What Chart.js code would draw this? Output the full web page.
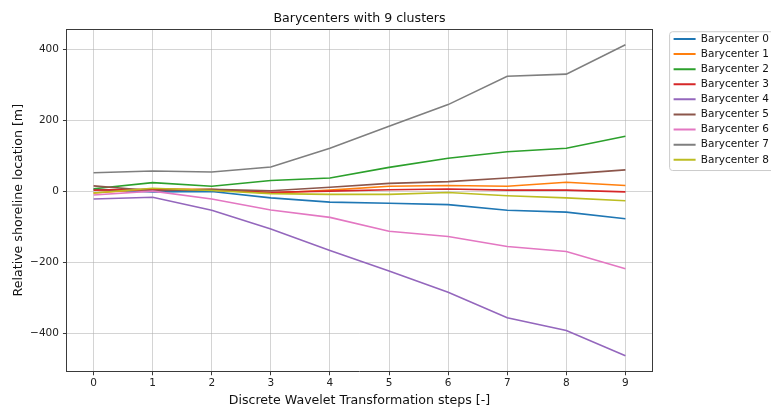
<!DOCTYPE html>
<html>
<head>
<meta charset="utf-8">
<title>Barycenters with 9 clusters</title>
<script src="https://cdn.jsdelivr.net/npm/chart.js@4/dist/chart.umd.min.js"></script>
<style>
  html, body { margin: 0; padding: 0; background: #fff; }
  #wrap { width: 771px; height: 408px; }
</style>
</head>
<body>
<div id="wrap"><canvas id="chart" width="771" height="408"></canvas></div>
<script>
// DWT steps on the x axis
const steps = [0, 1, 2, 3, 4, 5, 6, 7, 8, 9];

// barycenter curves, relative shoreline location in metres
const bary0 = [5, -2, -1, -19, -31, -34, -38, -54, -59, -78];
const bary1 = [-5, 6, 5, -6, 3, 14, 16, 14, 25, 16];
const bary2 = [7, 24, 14, 30, 37, 67, 93, 111, 121, 155];
const bary3 = [3, 5, 3, -3, 0, 4, 6, 3, 3, -2];
const bary4 = [-22, -17, -54, -107, -167, -225, -285, -357, -393, -464];
const bary5 = [15, 1, 5, 1, 11, 22, 27, 37, 48, 60];
const bary6 = [-11, 0, -22, -53, -74, -113, -128, -156, -170, -219];
const bary7 = [52, 57, 54, 68, 121, 183, 244, 324, 330, 413];
const bary8 = [-5, 8, 2, -7, -9, -9, -4, -13, -19, -27];

const seriesNames = ['Barycenter 0', 'Barycenter 1', 'Barycenter 2', 'Barycenter 3', 'Barycenter 4',
                     'Barycenter 5', 'Barycenter 6', 'Barycenter 7', 'Barycenter 8'];
const series = [bary0, bary1, bary2, bary3, bary4, bary5, bary6, bary7, bary8];

const xTicks = [0, 1, 2, 3, 4, 5, 6, 7, 8, 9];
const yTicks = [-400, -200, 0, 200, 400];

// tab10
const colors = ['#1f77b4', '#ff7f0e', '#2ca02c', '#d62728', '#9467bd',
                '#8c564b', '#e377c2', '#7f7f7f', '#bcbd22'];

const FONT = 'DejaVu Sans';
const SPINE = '#3a3a3a';
const GRID = 'rgba(176,176,176,0.55)';

const datasets = series.map((vals, i) => ({
  label: seriesNames[i],
  data: steps.map((s, j) => ({ x: s, y: vals[j] })),
  borderColor: colors[i],
  backgroundColor: colors[i],
  borderWidth: 1.6,
  pointRadius: 0,
  tension: 0,
  order: series.length - i   // later series on top
}));

// 5% margins like the data limits
const allVals = series.flat();
const yMinData = Math.min(...allVals), yMaxData = Math.max(...allVals);
const yPad = (yMaxData - yMinData) * 0.05;
const xPad = (steps[steps.length - 1] - steps[0]) * 0.05;

// frame around the legend entries
const legendFrame = {
  id: 'legendFrame',
  afterDraw(chart) {
    const boxes = chart.legend && chart.legend.legendHitBoxes;
    if (!boxes || !boxes.length) return;
    const first = boxes[0], last = boxes[boxes.length - 1];
    const l = first.left - 4.5, t = first.top - 2.5;
    const r = chart.width + 6, b = last.top + last.height + 5;
    const ctx = chart.ctx;
    ctx.save();
    ctx.strokeStyle = '#cccccc';
    ctx.lineWidth = 1;
    ctx.beginPath();
    ctx.roundRect(l + 0.5, t + 0.5, r - l, b - t, 3);
    ctx.stroke();
    ctx.restore();
  }
};

const fmt = v => (v < 0 ? '\u2212' + Math.abs(v) : String(v));

new Chart(document.getElementById('chart'), {
  type: 'line',
  data: { datasets },
  options: {
    responsive: false,
    animation: false,
    layout: { padding: { left: 4, top: 0, right: 0, bottom: 0 } },
    plugins: {
      tooltip: { enabled: false },
      title: {
        display: true,
        text: 'Barycenters with 9 clusters',
        fullSize: false,
        color: '#111',
        font: { family: FONT, size: 12.6, weight: 'normal' },
        padding: { top: 11, bottom: 3 }
      },
      legend: {
        position: 'right',
        align: 'start',
        fullSize: false,
        maxWidth: 102,
        labels: {
          font: { family: FONT, size: 10.5 },
          color: '#111',
          boxWidth: 22,
          boxHeight: 2,
          padding: 4.6,
          sort: (a, b) => a.datasetIndex - b.datasetIndex,
          generateLabels: chart =>
            Chart.defaults.plugins.legend.labels.generateLabels(chart).map(it => ({
              ...it, fillStyle: it.strokeStyle, lineWidth: 0
            }))
        }
      }
    },
    scales: {
      x: {
        type: 'linear',
        position: 'bottom',
        min: steps[0] - xPad,
        max: steps[steps.length - 1] + xPad,
        afterBuildTicks: s => { s.ticks = xTicks.map(v => ({ value: v })); },
        ticks: { font: { family: FONT, size: 10.5 }, color: '#222', padding: 2, maxRotation: 0 },
        grid: { color: GRID, lineWidth: 1, tickColor: SPINE, tickLength: 4 },
        border: { color: SPINE, width: 1 },
        title: {
          display: true,
          text: 'Discrete Wavelet Transformation steps [-]',
          color: '#111',
          font: { family: FONT, size: 12.6 },
          padding: { top: 1, bottom: 0 }
        }
      },
      y: {
        type: 'linear',
        position: 'left',
        min: yMinData - yPad,
        max: yMaxData + yPad,
        afterBuildTicks: s => { s.ticks = yTicks.map(v => ({ value: v })); },
        ticks: { font: { family: FONT, size: 10.5 }, color: '#222', padding: 4, callback: v => fmt(v) },
        grid: { color: GRID, lineWidth: 1, tickColor: SPINE, tickLength: 4 },
        border: { color: SPINE, width: 1 },
        title: {
          display: true,
          text: 'Relative shoreline location [m]',
          color: '#111',
          font: { family: FONT, size: 12.6 },
          padding: { top: 7, bottom: 0 }
        }
      },
      // right and top spines of the axes frame
      yRight: {
        type: 'linear',
        position: 'right',
        display: true,
        ticks: { display: false },
        grid: { drawOnChartArea: false, drawTicks: false },
        border: { color: SPINE, width: 1 },
        afterFit: s => { s.width = 17; }
      },
      xTop: {
        type: 'linear',
        position: 'top',
        display: true,
        ticks: { display: false },
        grid: { drawOnChartArea: false, drawTicks: false },
        border: { color: SPINE, width: 1 },
        afterFit: s => { s.height = 0; }
      }
    }
  },
  plugins: [legendFrame]
});
</script>
</body>
</html>
